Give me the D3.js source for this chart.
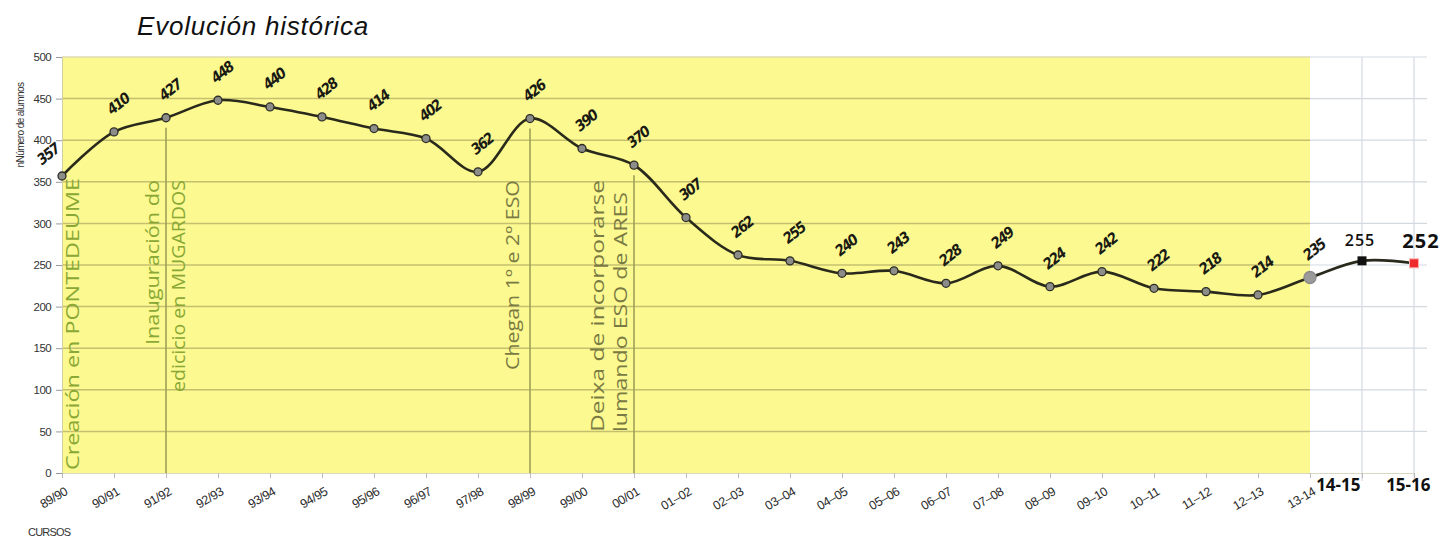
<!DOCTYPE html>
<html>
<head>
<meta charset="utf-8">
<script src="https://cdn.jsdelivr.net/npm/d3@7"></script>
<style>
  body { margin: 0; background: #fff; }
  svg { display: block; }
</style>
</head>
<body>
<div id="container"></div>
<script>
/* DATA */
const cursos = ["89/90","90/91","91/92","92/93","93/94","94/95","95/96","96/97","97/98","98/99",
  "99/00","00/01","01-02","02-03","03-04","04-05","05-06","06-07","07-08","08-09",
  "09-10","10-11","11-12","12-13","13-14","14-15","15-16"];
const alumnos = [357,410,427,448,440,428,414,402,362,426,390,370,307,262,255,240,243,228,249,224,242,222,218,214,235,255,252];
const rotulosCurso = ["89/90","90/91","91/92","92/93","93/94","94/95","95/96","96/97","97/98","98/99",
  "99/00","00/01","01–02","02–03","03–04","04–05","05–06","06–07","07–08","08–09",
  "09–10","10–11","11–12","12–13","13-14","14-15","15-16"];
const yTicks = [0,50,100,150,200,250,300,350,400,450,500];
const hitoCursos = ["89/90","91/92","98/99","00/01"];
const hitoTextos = [
  ["Creación en PONTEDEUME"],
  ["Inauguración do","edicicio en MUGARDOS"],
  ["Chegan 1º e 2º ESO"],
  ["Deixa de incorporarse","lumando ESO de ARES"]
];

/* CONSTANTS AND GLOBALS */
const W = 1447, H = 542;
const plot = {left: 62, right: 1414, top: 57, bottom: 473, yellowEnd: 1310, gridEnd: 1427};

const svg = d3.select("#container")
  .append("svg")
    .attr("width", W)
    .attr("height", H);

const x = d3.scalePoint()
  .domain(cursos)
  .range([plot.left, plot.right]);

const y = d3.scaleLinear()
  .domain([0, 500])
  .range([plot.bottom, plot.top]);

/* BACKGROUND */
svg.append("rect")
  .attr("x", plot.left).attr("y", plot.top)
  .attr("width", plot.yellowEnd - plot.left)
  .attr("height", plot.bottom - plot.top)
  .attr("fill", "#fbf98f");

// grid in white area
svg.append("g").selectAll("line")
  .data(yTicks.filter(d => d > 0))
  .join("line")
    .attr("x1", plot.yellowEnd).attr("x2", plot.gridEnd)
    .attr("y1", d => y(d)).attr("y2", d => y(d))
    .attr("stroke", "#d3d9e1").attr("stroke-width", 1.2);
svg.append("g").selectAll("line")
  .data(cursos.slice(25))
  .join("line")
    .attr("x1", d => x(d)).attr("x2", d => x(d))
    .attr("y1", plot.top).attr("y2", plot.bottom + 8)
    .attr("stroke", "#d3d9e1").attr("stroke-width", 1.2);

// grid in yellow area
svg.append("g").selectAll("line")
  .data(yTicks.filter(d => d > 0))
  .join("line")
    .attr("x1", plot.left).attr("x2", plot.yellowEnd)
    .attr("y1", d => y(d)).attr("y2", d => y(d))
    .attr("stroke", d => d === 500 ? "#dedbb0" : "#c4c070")
    .attr("stroke-width", 1.5);

/* AXES */
const yAxis = svg.append("g")
  .attr("transform", `translate(${plot.left},0)`)
  .call(d3.axisLeft(y).tickValues(yTicks).tickSize(6).tickPadding(5));
yAxis.select(".domain").attr("stroke", "#cfcfa0");
yAxis.selectAll(".tick line").attr("stroke", "#999");
yAxis.selectAll("text")
  .attr("fill", "#333")
  .style("font-family", "'Liberation Sans Narrow', 'Liberation Sans', sans-serif")
  .style("font-size", "11.5px")
  .style("letter-spacing", "-0.6px");

const xAxis = svg.append("g")
  .attr("transform", `translate(0,${plot.bottom})`)
  .call(d3.axisBottom(x).tickSize(5).tickFormat((d, i) => rotulosCurso[i]));
xAxis.select(".domain").attr("stroke", "#d8d8c0");
xAxis.selectAll(".tick line").attr("stroke", "#bbb");
xAxis.selectAll(".tick text")
  .attr("fill", "#2a2a2a")
  .style("font-family", "'Liberation Sans Narrow', 'Liberation Sans', sans-serif")
  .style("font-size", "12.5px")
  .style("letter-spacing", "-0.4px")
  .attr("text-anchor", "end")
  .attr("y", 0).attr("dy", 0)
  .attr("transform", "translate(6,21) rotate(-30)")
  .filter((d, i) => i >= 25)
    .attr("transform", (d, i) => i === 0 ? "translate(-2,18)" : "translate(16,18)")
    .style("font-family", "'Open Sans', sans-serif")
    .style("font-size", "17px")
    .style("letter-spacing", "0px")
    .style("font-weight", "bold")
    .attr("fill", "#111");

/* MILESTONES */
hitoCursos.forEach((c, i) => {
  const idx = cursos.indexOf(c);
  if (i > 0) {
    svg.append("line")
      .attr("x1", x(c)).attr("x2", x(c))
      .attr("y1", y(alumnos[idx]) + 10).attr("y2", plot.bottom)
      .attr("stroke", "#9ea257").attr("stroke-width", 1.6);
  }
});

const hitoPos = [
  [{cx: 73, y0: 470, len: 292}],
  [{cx: 153, y0: 345, len: 165}, {cx: 179, y0: 392, len: 212}],
  [{cx: 513, y0: 370, len: 190}],
  [{cx: 598, y0: 432, len: 252}, {cx: 621, y0: 432, len: 240}]
];
hitoTextos.forEach((lines, i) => {
  const col = i < 2 ? "#8aa835" : "#7a7a44";
  lines.forEach((t, j) => {
    const p = hitoPos[i][j];
    svg.append("text")
      .attr("transform", `translate(${p.cx + 6},${p.y0}) rotate(-90)`)
      .attr("fill", col)
      .attr("textLength", p.len)
      .attr("lengthAdjust", "spacingAndGlyphs")
      .style("font-family", "'Open Sans', sans-serif")
      .style("font-size", "18px")
      .text(t);
  });
});

/* LINE */
const line = d3.line()
  .x((d, i) => x(cursos[i]))
  .y(d => y(d))
  .curve(d3.curveCatmullRom.alpha(0.5));

svg.append("path")
  .datum(alumnos)
  .attr("fill", "none")
  .attr("stroke", "#2a2a1c")
  .attr("stroke-width", 2.6)
  .attr("d", line);

/* MARKERS */
svg.selectAll("circle.pt")
  .data(alumnos.slice(0, 25))
  .join("circle")
    .attr("class", "pt")
    .attr("cx", (d, i) => x(cursos[i]))
    .attr("cy", d => y(d))
    .attr("r", (d, i) => i === 24 ? 6 : 4)
    .attr("fill", (d, i) => i === 24 ? "#9a9a9a" : "#8c8c88")
    .attr("stroke", (d, i) => i === 24 ? "#8a8a8a" : "#2e2e26")
    .attr("stroke-width", 1.3);

svg.append("rect")
  .attr("x", x(cursos[25]) - 4.5).attr("y", y(alumnos[25]) - 4.5)
  .attr("width", 9).attr("height", 9)
  .attr("fill", "#111");
svg.append("rect")
  .attr("x", x(cursos[26]) - 4.5).attr("y", y(alumnos[26]) - 4.5)
  .attr("width", 9).attr("height", 9)
  .attr("fill", "#ee2a2a").attr("stroke", "#ffb0b0").attr("stroke-width", 1);

/* VALUE LABELS */
svg.selectAll("text.val")
  .data(alumnos.slice(0, 25))
  .join("text")
    .attr("class", "val")
    .attr("transform", (d, i) => {
      const dx = i === 0 ? -14 : 4;
      const dy = i === 0 ? -22 : -28;
      return `translate(${x(cursos[i]) + dx},${y(d) + dy}) rotate(-38)`;
    })
    .attr("text-anchor", "middle")
    .attr("dy", "0.35em")
    .attr("fill", "#1a1a14")
    .style("font-family", "'DejaVu Sans Condensed', 'DejaVu Sans', sans-serif")
    .style("font-style", "italic")
    .style("font-weight", "bold")
    .style("font-size", "15px")
    .style("letter-spacing", "-1.5px")
    .text(d => d);

svg.selectAll("text.valend")
  .data(alumnos.slice(25))
  .join("text")
    .attr("class", "valend")
    .attr("x", (d, i) => x(cursos[25 + i]) + (i === 0 ? -2 : 7))
    .attr("y", (d, i) => y(d) + (i === 0 ? -15 : -15))
    .attr("text-anchor", "middle")
    .attr("fill", "#111")
    .style("font-family", "'Open Sans', sans-serif")
    .style("font-weight", (d, i) => i === 0 ? "600" : "bold")
    .style("font-size", (d, i) => i === 0 ? "16px" : "20px")
    .style("letter-spacing", "1px")
    .text(d => d);

/* TITLES */
svg.append("text")
  .attr("x", 137).attr("y", 35)
  .style("font-family", "'Liberation Sans', Arial, sans-serif")
  .style("font-style", "italic")
  .style("font-size", "26px")
  .style("letter-spacing", "0.8px")
  .attr("fill", "#111")
  .text("Evolución histórica");

svg.append("text")
  .attr("transform", "translate(24,125) rotate(-90)")
  .attr("text-anchor", "middle")
  .style("font-family", "'Liberation Sans Narrow', 'Liberation Sans', sans-serif")
  .style("font-size", "10px")
  .style("letter-spacing", "-0.6px")
  .attr("fill", "#333")
  .text("nNúmero de alumnos");

svg.append("text")
  .attr("x", 28).attr("y", 536)
  .style("font-family", "'Liberation Sans Narrow', 'Liberation Sans', sans-serif")
  .style("font-size", "11px")
  .style("letter-spacing", "-0.8px")
  .attr("fill", "#333")
  .text("CURSOS");
</script>
</body>
</html>
